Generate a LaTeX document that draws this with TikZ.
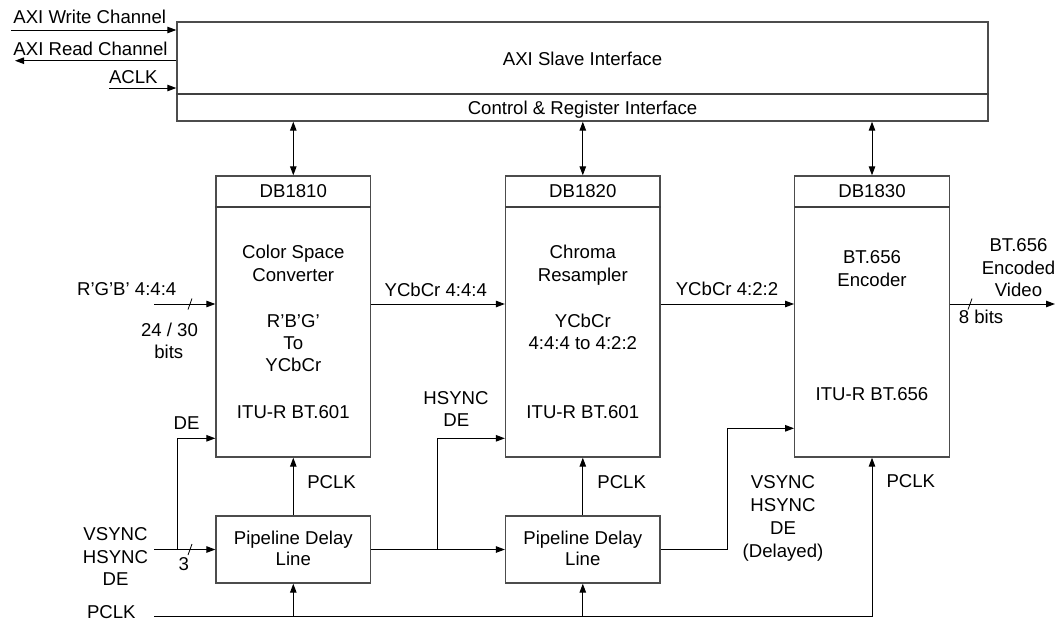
\documentclass[tikz,border=0pt]{standalone}
\usepackage{fontspec}
\setmainfont{Liberation Sans}
\usetikzlibrary{arrows.meta,calc}
\newcommand\tx[4]{\node[txt] (#1) at (#2,#3) {#4};}
\begin{document}
\begin{tikzpicture}[x=1pt,y=-1pt,
  txt/.style={font=\fontsize{18.6}{22.5}\selectfont, inner sep=0pt, anchor=base},
  box/.style={draw=black!70, line width=1.4pt, inner sep=0pt, fill=white},
  divider/.style={draw=black!75, line width=1.2pt},
  arr/.style={line width=1pt, -{Triangle[length=9pt,width=6.5pt]}},
  barr/.style={line width=1pt, {Triangle[length=9pt,width=6.5pt]}-{Triangle[length=9pt,width=6.5pt]}},
  tick/.style={line width=0.8pt}]
\useasboundingbox (0,0) rectangle (1062,622);

% boxes
\node[box, minimum width=811pt, minimum height=99pt] (axi) at (582.5,71.5) {};
\draw[divider] (axi.west |- 0,94) -- (axi.east |- 0,94);
\node[box, minimum width=154.5pt, minimum height=281pt] (db1) at (293.3,316.5) {};
\node[box, minimum width=154.5pt, minimum height=281pt] (db2) at (582.8,316.5) {};
\node[box, minimum width=154.5pt, minimum height=281pt] (db3) at (872,316.5) {};
\draw[divider] (db1.west |- 0,207) -- (db1.east |- 0,207);
\draw[divider] (db2.west |- 0,207) -- (db2.east |- 0,207);
\draw[divider] (db3.west |- 0,207) -- (db3.east |- 0,207);
\node[box, minimum width=154.5pt, minimum height=67pt] (pd1) at (293.3,549.5) {};
\node[box, minimum width=154.5pt, minimum height=67pt] (pd2) at (582.8,549.5) {};

% texts
\tx{tw}{89.7}{23.5}{AXI Write Channel}
\tx{tr}{90.5}{55.5}{AXI Read Channel}
\tx{ta}{133.3}{83.5}{ACLK}
\tx{tslave}{582.5}{65}{AXI Slave Interface}
\tx{tctrl}{582.5}{114}{Control \& Register Interface}
\tx{tdb1}{293.3}{197}{DB1810}
\tx{tdb2}{582.8}{197}{DB1820}
\tx{tdb3}{872}{197}{DB1830}
\tx{ta1}{293.3}{258}{Color Space}
\tx{ta2}{293.3}{281}{Converter}
\tx{ta3}{293.3}{327}{R’B’G’}
\tx{ta4}{293.3}{349}{To}
\tx{ta5}{293.3}{371.5}{YCbCr}
\tx{ta6}{293.3}{418}{ITU-R BT.601}
\tx{tb1}{582.8}{258}{Chroma}
\tx{tb2}{582.8}{281}{Resampler}
\tx{tb3}{582.8}{327}{YCbCr}
\tx{tb4}{582.8}{349}{4:4:4 to 4:2:2}
\tx{tb6}{582.8}{418}{ITU-R BT.601}
\tx{tc1}{872}{263}{BT.656}
\tx{tc2}{872}{286}{Encoder}
\tx{tc3}{872}{400}{ITU-R BT.656}
\tx{ty1}{435.8}{296.5}{YCbCr 4:4:4}
\tx{ty2}{727}{295.5}{YCbCr 4:2:2}
\tx{to1}{1018.5}{251.5}{BT.656}
\tx{to2}{1018.5}{274}{Encoded}
\tx{to3}{1018.5}{296.5}{Video}
\tx{to4}{981}{323}{8 bits}
\tx{ti1}{126.7}{295}{R’G’B’ 4:4:4}
\tx{ti2}{169.5}{336.5}{24 / 30}
\tx{ti3}{168.8}{358.3}{bits}
\tx{tde}{186.5}{429}{DE}
\tx{ts1}{115.5}{540}{VSYNC}
\tx{ts2}{115.5}{563}{HSYNC}
\tx{ts3}{115.5}{585.5}{DE}
\tx{tthree}{183.8}{570.5}{3}
\tx{tpclk}{111.3}{618.5}{PCLK}
\tx{th1}{456}{404}{HSYNC}
\tx{th2}{456.3}{426.7}{DE}
\tx{tp1}{331.6}{488}{PCLK}
\tx{tp2}{621.7}{488}{PCLK}
\tx{tp3}{910.8}{487.3}{PCLK}
\tx{tpd1a}{293.3}{544}{Pipeline Delay}
\tx{tpd1b}{293.3}{565.7}{Line}
\tx{tpd2a}{582.8}{544}{Pipeline Delay}
\tx{tpd2b}{582.8}{565.7}{Line}
\tx{tv1}{783}{488.3}{VSYNC}
\tx{tv2}{783}{511.7}{HSYNC}
\tx{tv3}{783}{534.3}{DE}
\tx{tv4}{783}{557}{(Delayed)}

% AXI side connectors
\coordinate (win) at (11,30);
\coordinate (rout) at (15,60.7);
\coordinate (cin) at (109,88);
\draw[arr] (win) -- (win -| axi.west);
\draw[arr] (rout -| axi.west) -- (rout);
\draw[arr] (cin) -- (cin -| axi.west);

% register bus
\draw[barr] (axi.south -| db1.north) -- (db1.north);
\draw[barr] (axi.south -| db2.north) -- (db2.north);
\draw[barr] (axi.south -| db3.north) -- (db3.north);

% video path
\coordinate (rgbin) at (154,304);
\coordinate (vout) at (1055,304);
\draw[arr] (rgbin) -- (rgbin -| db1.west);
\draw[tick] (188,309.5) -- (192,298.5);
\draw[arr] (db1.east |- rgbin) -- (db2.west |- rgbin);
\draw[arr] (db2.east |- rgbin) -- (db3.west |- rgbin);
\draw[arr] (db3.east |- vout) -- (vout);
\draw[tick] (968,309.5) -- (972,298.5);

% sync path
\coordinate (syncin) at (154,549.5);
\coordinate (de1) at (177.3,438.3);
\coordinate (hs) at (437.7,438.3);
\coordinate (vs) at (727.3,428.3);
\draw[arr] (syncin) -- (pd1.west);
\draw[tick] (188,555) -- (192,544);
\draw[arr] (de1 |- pd1.west) -- (de1) -- (de1 -| db1.west);
\draw[arr] (pd1.east) -- (pd2.west);
\draw[arr] (hs |- pd1.east) -- (hs) -- (hs -| db2.west);
\draw[arr] (pd2.east) -- (vs |- pd2.east) -- (vs) -- (vs -| db3.west);
\draw[arr] (pd1.north) -- (db1.south);
\draw[arr] (pd2.north) -- (db2.south);

% pixel clock
\coordinate (pclkin) at (154,616);
\draw[arr] (pclkin) -- (pclkin -| db3.south) -- (db3.south);
\draw[arr] (pd1.south |- pclkin) -- (pd1.south);
\draw[arr] (pd2.south |- pclkin) -- (pd2.south);
\end{tikzpicture}
\end{document}
